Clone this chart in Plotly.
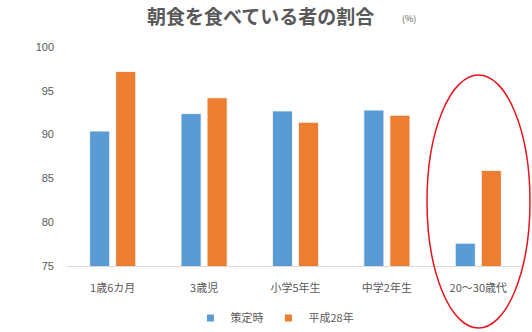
import plotly.graph_objects as go

# Breakfast-eating rate by age group (%)
categories = ["1歳6カ月", "3歳児", "小学5年生", "中学2年生", "20～30歳代"]
baseline_values = [90.4, 92.4, 92.7, 92.8, 77.6]   # 策定時
h28_values = [97.2, 94.2, 91.4, 92.2, 85.9]        # 平成28年
series_names = ["策定時", "平成28年"]
series_colors = ["#5b9bd5", "#ed7d31"]
y_ticks = [75, 80, 85, 90, 95, 100]

TEXT_GRAY = "#595959"
FONT_JP = "Noto Sans CJK JP"

fig = go.Figure()
for name, vals, col in zip(series_names, [baseline_values, h28_values], series_colors):
    fig.add_trace(go.Bar(
        x=categories, y=vals, name=name, showlegend=False,
        marker=dict(color=col, line=dict(color="white", width=0.8)),
    ))
    # small square legend key
    fig.add_trace(go.Scatter(
        x=[None], y=[None], mode="markers", name=name,
        marker=dict(symbol="square", size=7, color=col),
    ))

fig.update_layout(
    width=532, height=332,
    margin=dict(l=67, r=8, t=47, b=66, autoexpand=False),
    paper_bgcolor="white", plot_bgcolor="white",
    barmode="group", bargap=0.43, bargroupgap=0.23,
    font=dict(family=FONT_JP, color=TEXT_GRAY, size=11),
    showlegend=True,
    legend=dict(
        orientation="h", x=0.455, xanchor="center", y=-0.237, yanchor="middle",
        font=dict(size=11, color=TEXT_GRAY, family=FONT_JP),
        itemwidth=30, traceorder="normal", tracegroupgap=0,
    ),
    xaxis=dict(
        showline=True, linecolor="#d9d9d9", linewidth=1,
        showgrid=False, ticks="", ticklabelstandoff=12,
        tickfont=dict(size=11, color=TEXT_GRAY),
    ),
    yaxis=dict(
        range=[75, 100], tickvals=y_ticks, showgrid=False, zeroline=False,
        showline=False, ticks="", ticklabelstandoff=12,
        tickfont=dict(size=11, color=TEXT_GRAY, family="Liberation Sans"),
    ),
)

# Title and unit
fig.add_annotation(
    text="<b>朝食を食べている者の割合</b>", xref="paper", yref="paper",
    x=(260 - 67) / 457, y=(266 - 16) / 219, xanchor="center", yanchor="middle",
    showarrow=False, font=dict(size=19, color=TEXT_GRAY, family=FONT_JP),
)
fig.add_annotation(
    text="(%)", xref="paper", yref="paper",
    x=(409 - 67) / 457, y=(266 - 18) / 219, xanchor="center", yanchor="middle",
    showarrow=False, font=dict(size=9, color=TEXT_GRAY, family=FONT_JP),
)

# Red ellipse highlighting the 20-30s group
fig.add_shape(
    type="circle", xref="paper", yref="paper",
    x0=(427 - 67) / 457, x1=(530 - 67) / 457,
    y0=(266 - 328) / 219, y1=(266 - 75) / 219,
    line=dict(color="#e8141b", width=1.5), fillcolor="rgba(0,0,0,0)",
)

fig.write_html("out.html")
